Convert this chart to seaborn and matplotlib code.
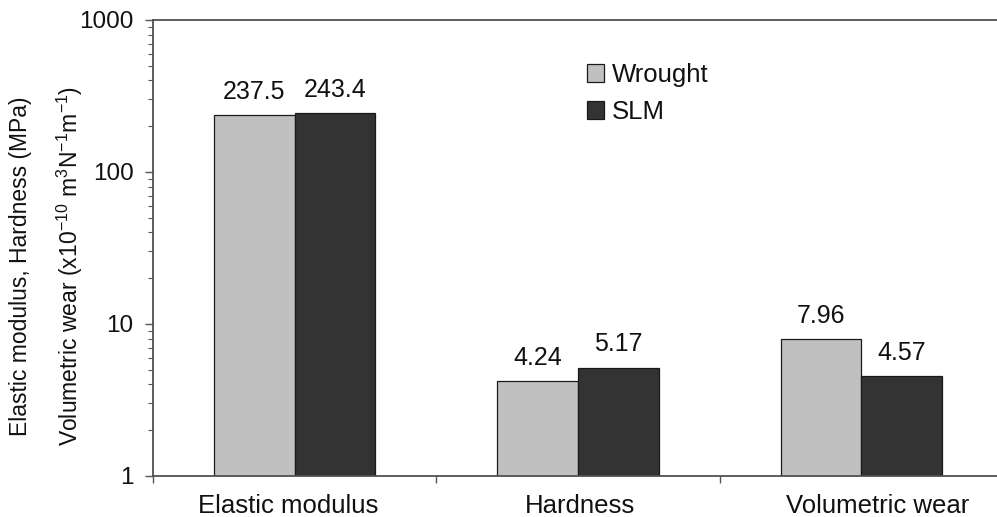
import matplotlib
matplotlib.use("Agg")
import matplotlib.pyplot as plt
from matplotlib.patches import Patch
from matplotlib.ticker import FixedLocator, LogLocator, NullFormatter
from matplotlib.transforms import ScaledTranslation
import seaborn as sns
import pandas as pd

# Measured properties of wrought vs. SLM material
categories = ["Elastic modulus", "Hardness", "Volumetric wear"]
wrought = [237.5, 4.24, 7.96]
slm = [243.4, 5.17, 4.57]
processes = ["Wrought", "SLM"]
yticks = [1, 10, 100, 1000]
ytick_labels = ["1", "10", "100", "1000"]

colors = {"Wrought": "#c0c0c0", "SLM": "#333333"}

df = pd.DataFrame({
    "property": categories * 2,
    "value": wrought + slm,
    "process": ["Wrought"] * len(categories) + ["SLM"] * len(categories),
})

sns.set_theme(style="white")
plt.rcParams["font.family"] = ["Liberation Sans", "DejaVu Sans"]
plt.rcParams["mathtext.fontset"] = "custom"
plt.rcParams["mathtext.rm"] = "Liberation Sans"
plt.rcParams["mathtext.it"] = "Liberation Sans:italic"

W, H = 997, 517
fig = plt.figure(figsize=(W / 100, H / 100), dpi=100)
ax = fig.add_axes([153 / W, (H - 476) / H, 850 / W, 456 / H])
ax.set_yscale("log")

sns.barplot(
    data=df, x="property", y="value", hue="process",
    order=categories, hue_order=processes,
    palette=colors, width=0.57, gap=0,
    edgecolor="#1a1a1a", linewidth=0.9,
    saturation=1, legend=False, ax=ax,
)

ax.set_ylim(1, 1000)
ax.set_xlim(-0.5, len(categories) - 0.5)

# value labels above each bar
for cont in ax.containers:
    vals = [b.get_height() for b in cont]
    ax.bar_label(cont, labels=[f"{v:g}" for v in vals], padding=8,
                 fontsize=18, color="#111111")

# y axis: log ticks pointing outward
ax.yaxis.set_major_locator(FixedLocator(yticks))
ax.set_yticklabels(ytick_labels)
ax.yaxis.set_minor_locator(LogLocator(base=10, subs=range(2, 10)))
ax.yaxis.set_minor_formatter(NullFormatter())
ax.tick_params(axis="y", which="major", direction="out", length=6, width=1.0,
               color="#555555", labelsize=17.5, pad=8, left=True, labelcolor="#111111")
ax.tick_params(axis="y", which="minor", direction="out", length=3.5, width=0.8,
               color="#555555", left=True)

# x axis: separators between categories, labels below each group
ax.set_xticks(range(len(categories)))
ax.set_xticklabels(categories)
ax.set_xticks([i - 0.5 for i in range(len(categories) + 1)], minor=True)
ax.tick_params(axis="x", which="major", length=0, labelsize=18.5, pad=13,
               labelcolor="#111111")
ax.tick_params(axis="x", which="minor", direction="out", length=5, width=1.0,
               color="#555555", bottom=True)
label_shift_px = [-6, 2, 16]
for lab, dx in zip(ax.get_xticklabels(), label_shift_px):
    lab.set_transform(lab.get_transform() + ScaledTranslation(dx / 100, 0, fig.dpi_scale_trans))
ax.set_xlabel("")
ax.set_ylabel("")

for side in ["left", "bottom", "top"]:
    ax.spines[side].set_visible(True)
    ax.spines[side].set_color("#505050")
    ax.spines[side].set_linewidth(1.3)
ax.spines["right"].set_visible(False)

# two-line axis title
fig.text(21 / W, (H - 266) / H, "Elastic modulus, Hardness (MPa)",
         rotation=90, ha="center", va="center", fontsize=16.5, color="#111111")
fig.text(70 / W, (H - 266) / H,
         r"Volumetric wear (x10$^{-10}$ m$^{3}$N$^{-1}$m$^{-1}$)",
         rotation=90, ha="center", va="center", fontsize=16.5, color="#111111")

handles = [Patch(facecolor=colors[p], edgecolor="#1a1a1a", linewidth=0.9, label=p)
           for p in processes]
fig.legend(handles=handles, loc="upper left",
           bbox_to_anchor=(587 / W, (H - 63) / H), frameon=False,
           fontsize=18.5, handlelength=0.68, handleheight=0.68,
           handletextpad=0.3, labelspacing=0.5, borderpad=0, borderaxespad=0,
           labelcolor="#111111")

fig.savefig("out.png", dpi=100)
